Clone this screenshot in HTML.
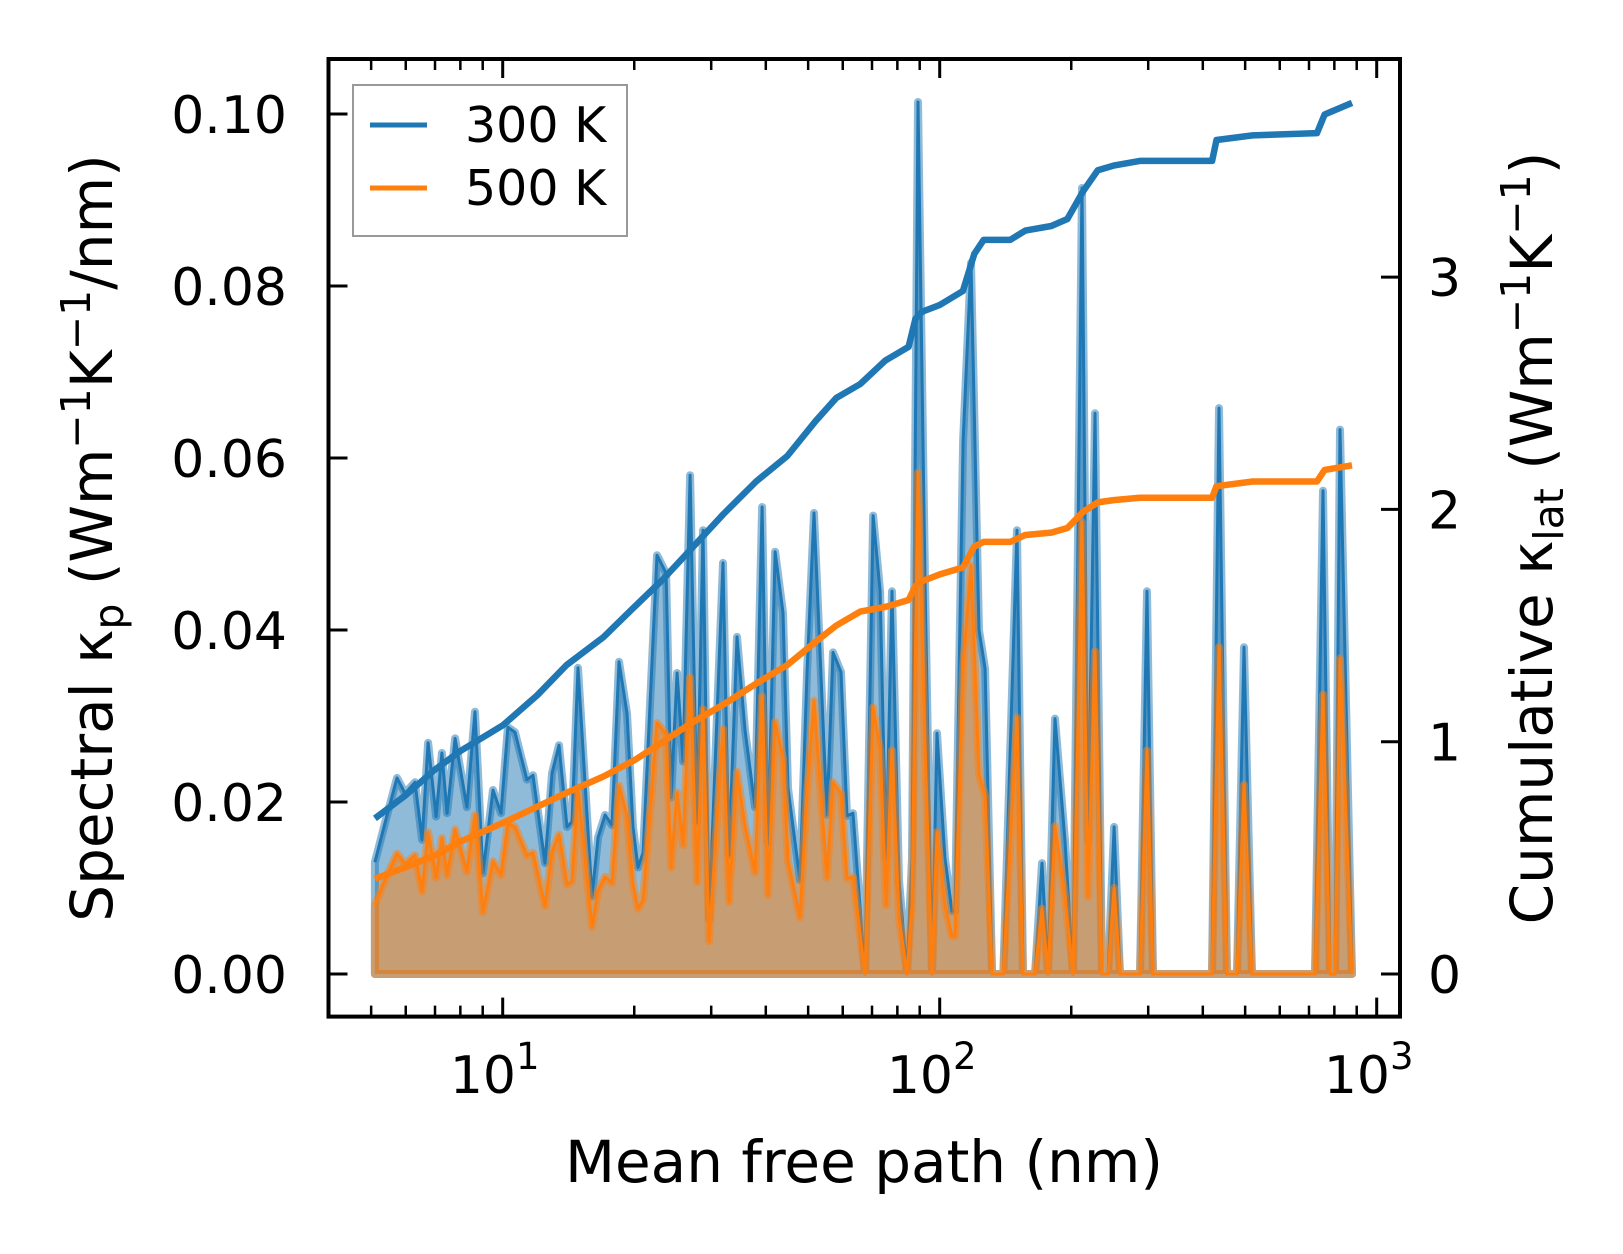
<!DOCTYPE html>
<html><head><meta charset="utf-8"><style>
html,body{margin:0;padding:0;background:#fff}
svg{display:block;font-family:"DejaVu Sans","Liberation Sans",sans-serif}
</style></head><body>
<svg id="chart" width="1623" height="1254" viewBox="0 0 1623 1254" xmlns="http://www.w3.org/2000/svg">
<rect width="1623" height="1254" fill="#fff"/>
<g id="marks"></g>
<g id="axes"></g>
<rect x="328.5" y="59" width="1071.5" height="957.6" fill="none" stroke="#000" stroke-width="4"/>
<g>
<rect x="353" y="85" width="274" height="151" fill="#fff" fill-opacity="0.8" stroke="#999" stroke-width="2"/>
<line x1="370" y1="125" x2="427" y2="125" stroke="#1f77b4" stroke-width="5"/>
<text x="465" y="142" font-size="49">300 K</text>
<line x1="370" y1="188" x2="427" y2="188" stroke="#ff7f0e" stroke-width="5"/>
<text x="465" y="205" font-size="49">500 K</text>
</g>
<text x="864" y="1182" font-size="58" text-anchor="middle">Mean free path (nm)</text>
<text transform="translate(112,538) rotate(-90)" font-size="58" text-anchor="middle">Spectral κ<tspan font-size="41" dy="11">p</tspan><tspan dy="-11"> (Wm</tspan><tspan font-size="41" dy="-22">−1</tspan><tspan dy="22">K</tspan><tspan font-size="41" dy="-22">−1</tspan><tspan dy="22">/nm)</tspan></text>
<text transform="translate(1552,538) rotate(-90)" font-size="58" text-anchor="middle">Cumulative κ<tspan font-size="41" dy="11">lat</tspan><tspan dy="-11"> (Wm</tspan><tspan font-size="41" dy="-22">−1</tspan><tspan dy="22">K</tspan><tspan font-size="41" dy="-22">−1</tspan><tspan dy="22">)</tspan></text>
</svg>
<script>
const mfp = [5.10,5.38,5.73,5.98,6.30,6.54,6.75,7.04,7.26,7.46,7.78,8.28,8.64,9.01,9.50,9.91,10.28,10.67,11.36,11.73,12.50,12.97,13.45,14.03,14.41,14.87,16.01,16.53,17.15,17.79,18.46,19.25,19.87,20.40,20.95,22.55,23.65,24.28,25.06,25.87,26.84,27.85,28.73,29.66,31.92,32.95,34.37,35.85,37.79,39.22,40.47,42.00,43.80,44.97,47.90,49.70,51.57,55.23,57.00,59.46,61.36,63.34,67.48,70.39,73.03,75.38,77.79,80.71,84.19,86.44,89.21,92.56,96.03,98.59,102.8,106.7,108.4,113.1,117.9,123.0,127.0,131.8,139.8,150.3,155.1,165.2,171.4,176.9,183.6,193.5,201.8,211.7,218.5,226.7,235.2,242.8,250.6,258.6,287.3,298.1,307.7,419.9,435.7,454.4,478.9,497.0,518.4,722.5,753.6,782.0,802.9,824.3,878.0];
const spec300 = [0.0130,0.0176,0.0228,0.0210,0.0223,0.0156,0.0269,0.0183,0.0257,0.0187,0.0274,0.0194,0.0305,0.0117,0.0214,0.0187,0.0287,0.0281,0.0226,0.0231,0.0129,0.0234,0.0266,0.0171,0.0177,0.0356,0.0090,0.0159,0.0185,0.0173,0.0363,0.0303,0.0171,0.0124,0.0141,0.0487,0.0466,0.0205,0.0350,0.0247,0.0580,0.0176,0.0516,0.0063,0.0478,0.0138,0.0392,0.0284,0.0194,0.0543,0.0152,0.0491,0.0420,0.0216,0.0109,0.0350,0.0536,0.0185,0.0374,0.0351,0.0184,0.0187,0,0.0533,0.0445,0.0135,0.0445,0.0109,0,0.0135,0.1014,0.0458,0,0.0280,0.0135,0.0073,0.0073,0.0620,0.0827,0.0400,0.0355,0,0,0.0516,0,0,0.0129,0,0.0297,0.0155,0,0.0914,0.0155,0.0652,0,0,0.0171,0,0,0.0445,0,0,0.0658,0,0,0.0380,0,0,0.0562,0,0,0.0633,0];
const spec500 = [0.0080,0.0110,0.0140,0.0128,0.0138,0.0096,0.0165,0.0112,0.0158,0.0115,0.0168,0.0119,0.0185,0.0072,0.0131,0.0115,0.0175,0.0171,0.0138,0.0141,0.0079,0.0143,0.0162,0.0104,0.0108,0.0215,0.0055,0.0097,0.0113,0.0106,0.0219,0.0184,0.0104,0.0076,0.0086,0.0292,0.0279,0.0124,0.0211,0.0150,0.0345,0.0107,0.0308,0.0038,0.0285,0.0084,0.0235,0.0172,0.0118,0.0323,0.0092,0.0293,0.0251,0.0131,0.0066,0.0210,0.0318,0.0112,0.0223,0.0210,0.0111,0.0113,0,0.0310,0.0260,0.0080,0.0260,0.0065,0,0.0080,0.0583,0.0265,0,0.0165,0.0080,0.0044,0.0044,0.0358,0.0475,0.0232,0.0207,0,0,0.0298,0,0,0.0076,0,0.0172,0.0090,0,0.0525,0.0090,0.0375,0,0,0.0100,0,0,0.0260,0,0,0.0380,0,0,0.0220,0,0,0.0325,0,0,0.0367,0];
const cumX = [5.1,6,7,8,10,12,14,17,20,23.3,27,32,38,44.8,52,58,65.8,75,84.9,88,91,100,113,120,126,145,157,180,196,213,230,250,287,420,430,520,730,760,878];
const cum300 = [0.67,0.77,0.88,0.96,1.07,1.20,1.33,1.45,1.58,1.70,1.83,1.98,2.12,2.23,2.38,2.48,2.54,2.64,2.70,2.82,2.85,2.88,2.94,3.10,3.16,3.16,3.20,3.22,3.25,3.37,3.46,3.48,3.50,3.50,3.59,3.61,3.62,3.70,3.75];
const cum500 = [0.41,0.46,0.51,0.57,0.65,0.72,0.78,0.85,0.92,1.00,1.08,1.16,1.25,1.33,1.43,1.50,1.56,1.58,1.61,1.67,1.69,1.72,1.75,1.84,1.86,1.86,1.89,1.90,1.92,1.99,2.03,2.04,2.05,2.05,2.10,2.12,2.12,2.17,2.19];
const leftTicks = [0,0.02,0.04,0.06,0.08,0.10];
const leftTickLabels = ["0.00","0.02","0.04","0.06","0.08","0.10"];
const rightTicks = [0,1,2,3];
const xMajor = [10,100,1000];
const xMajorExp = ["1","2","3"];

const NS="http://www.w3.org/2000/svg";
const X0=328.5,X1=1400,Y0=59,Y1=1016.6;
function sx(v){return 502.7+(Math.log10(v)-1)*437;}
function syL(v){return 974-v*8600;}
function syR(v){return 974-v*232.3;}
function mk(tag,attrs,parent){const e=document.createElementNS(NS,tag);for(const k in attrs)e.setAttribute(k,attrs[k]);parent.appendChild(e);return e;}
const marks=document.getElementById('marks'), axes=document.getElementById('axes');

function areaPath(xs,ys){let d='M'+sx(xs[0]).toFixed(1)+','+syL(0);for(let i=0;i<xs.length;i++)d+='L'+sx(xs[i]).toFixed(1)+','+syL(ys[i]).toFixed(1);d+='L'+sx(xs[xs.length-1]).toFixed(1)+','+syL(0)+'Z';return d;}
function linePath(xs,ys,fy){let d='';for(let i=0;i<xs.length;i++)d+=(i?'L':'M')+sx(xs[i]).toFixed(1)+','+fy(ys[i]).toFixed(1);return d;}

const n=Math.min(mfp.length,spec300.length,spec500.length);
const xs=mfp.slice(0,n);
let a=mk('path',{d:areaPath(xs,spec300.slice(0,n)),fill:'#1f77b4','fill-opacity':0.5,stroke:'#1f77b4','stroke-opacity':0.5,'stroke-width':8,'stroke-linejoin':'round'},marks);


let l=mk('path',{d:linePath(xs,spec300.slice(0,n),syL),fill:'none',stroke:'#1f77b4','stroke-width':3,'stroke-linejoin':'round'},marks);


a=mk('path',{d:areaPath(xs,spec500.slice(0,n)),fill:'#ff7f0e','fill-opacity':0.5,stroke:'#ff7f0e','stroke-opacity':0.5,'stroke-width':8,'stroke-linejoin':'round'},marks);


l=mk('path',{d:linePath(xs,spec500.slice(0,n),syL),fill:'none',stroke:'#ff7f0e','stroke-width':3,'stroke-linejoin':'round'},marks);


l=mk('path',{d:linePath(cumX,cum300,syR),fill:'none',stroke:'#1f77b4','stroke-width':6.5,'stroke-linejoin':'round'},marks);


l=mk('path',{d:linePath(cumX,cum500,syR),fill:'none',stroke:'#ff7f0e','stroke-width':6.5,'stroke-linejoin':'round'},marks);



leftTicks.forEach((v,i)=>{const y=syL(v);
 const t=mk('line',{x1:X0,y1:y,x2:X0+19,y2:y,stroke:'#000','stroke-width':3},axes);
 
 
 const tx=mk('text',{x:287,y:y+19,'font-size':52,'text-anchor':'end'},axes);tx.textContent=leftTickLabels[i];
 
 
});
rightTicks.forEach(v=>{const y=syR(v);
 const t=mk('line',{x1:X1-19,y1:y,x2:X1,y2:y,stroke:'#000','stroke-width':3},axes);
 
 
 const tx=mk('text',{x:1428,y:y+19,'font-size':52},axes);tx.textContent=String(v);
 
 
});
for(let dec=1;dec<=100;dec*=10){for(let m=2;m<=9;m++){const v=m*dec;const x=sx(v);if(x<=X0+2||x>=X1-2)continue;
 for(const [ya,yb] of [[Y1,Y1-11],[Y0,Y0+11]]){const t=mk('line',{x1:x,y1:ya,x2:x,y2:yb,stroke:'#000','stroke-width':2.5},axes);
 
 }}}
xMajor.forEach((v,i)=>{const x=sx(v);
 for(const [ya,yb] of [[Y1,Y1-19],[Y0,Y0+19]]){const t=mk('line',{x1:x,y1:ya,x2:x,y2:yb,stroke:'#000','stroke-width':3},axes);
 
 }
 const tx=mk('text',{x:x-8,y:1093,'font-size':52,'text-anchor':'middle'},axes);
 
 
 tx.textContent='10';
 const sp=mk('tspan',{'font-size':37,dy:-24},tx);sp.textContent=xMajorExp[i];
});
</script>
</body></html>
